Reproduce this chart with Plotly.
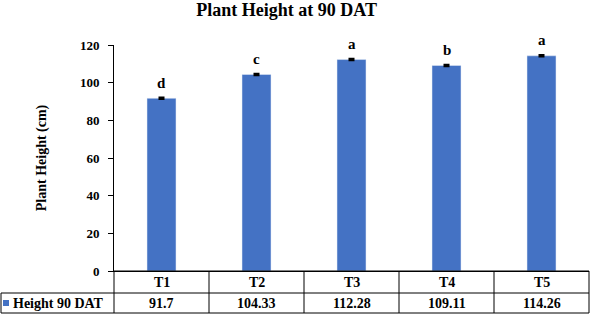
import plotly.graph_objects as go

categories = ["T1", "T2", "T3", "T4", "T5"]
heights = [91.7, 104.33, 112.28, 109.11, 114.26]
errors = [0.4, 0.4, 0.4, 0.4, 0.4]
letters = ["d", "c", "a", "b", "a"]
value_labels = ["91.7", "104.33", "112.28", "109.11", "114.26"]
series_name = "Height 90 DAT"
y_ticks = [0, 20, 40, 60, 80, 100, 120]

FONT = "Liberation Serif"
BLUE = "#4472C4"

W, H = 591, 323
ml, mr, mt, mb = 114, 2, 45, 52
pw = W - ml - mr
ph = H - mt - mb

fig = go.Figure()
fig.add_trace(go.Bar(
    x=categories, y=heights, marker_color=BLUE, width=0.305,
    error_y=dict(type="data", array=errors, color="black", thickness=2, width=3),
    showlegend=False,
))

fig.update_layout(
    width=W, height=H,
    margin=dict(l=ml, r=mr, t=mt, b=mb),
    plot_bgcolor="white", paper_bgcolor="white",
    title=dict(text="<b>Plant Height at 90 DAT</b>", x=0.485, xanchor="center",
               y=1 - 3 / H, yanchor="top", pad=dict(t=0),
               font=dict(family=FONT, size=18, color="black")),
    font=dict(family=FONT, color="black"),
)
fig.update_xaxes(showticklabels=False, ticks="", showline=True, linecolor="black",
                 linewidth=1, range=[-0.5, 4.5], showgrid=False, zeroline=False)
fig.update_yaxes(range=[0, 120], tickvals=y_ticks,
                 ticktext=[f"<b>{t}</b>" for t in y_ticks],
                 ticks="outside", ticklen=5, ticklabelstandoff=6,
                 tickcolor="black", showline=True, linecolor="black", linewidth=1,
                 showgrid=False, zeroline=False,
                 tickfont=dict(family=FONT, size=13, color="black"),
                 title=dict(text="<b>Plant Height (cm)</b>", standoff=30,
                            font=dict(family=FONT, size=14, color="black")))

def py(px_from_top):
    return 1 - (px_from_top - mt) / ph

def px(x_px):
    return (x_px - ml) / pw

row1_top = py(271)
row_mid = py(293)
row_bot = py(313)
left = px(1)
line = dict(color="black", width=1)

shapes = []
shapes.append(dict(type="line", xref="paper", yref="paper", x0=0, x1=1, y0=row1_top, y1=row1_top, line=line))
shapes.append(dict(type="line", xref="paper", yref="paper", x0=left, x1=1, y0=row_mid, y1=row_mid, line=line))
shapes.append(dict(type="line", xref="paper", yref="paper", x0=left, x1=1, y0=row_bot, y1=row_bot, line=line))
n = len(categories)
for i in range(n + 1):
    shapes.append(dict(type="line", xref="paper", yref="paper", x0=i / n, x1=i / n,
                       y0=row1_top, y1=row_bot, line=line))
shapes.append(dict(type="line", xref="paper", yref="paper", x0=left, x1=left,
                   y0=row_mid, y1=row_bot, line=line))
shapes.append(dict(type="rect", xref="paper", yref="paper", x0=px(3), x1=px(9),
                   y0=py(306), y1=py(300), fillcolor=BLUE, line=dict(width=0)))
fig.update_layout(shapes=shapes)

ann = []
for c, h, e, l in zip(categories, heights, errors, letters):
    ann.append(dict(x=c, y=h + e, xref="x", yref="y", text=f"<b>{l}</b>", showarrow=False,
                    yanchor="middle", yshift=15,
                    font=dict(family=FONT, size=15, color="black")))
for i, (c, v) in enumerate(zip(categories, value_labels)):
    xc = (i + 0.5) / n
    ann.append(dict(xref="paper", yref="paper", x=xc, y=(row1_top + row_mid) / 2,
                    text=f"<b>{c}</b>", showarrow=False, xanchor="center", yanchor="middle",
                    font=dict(family=FONT, size=14, color="black")))
    ann.append(dict(xref="paper", yref="paper", x=xc, y=(row_mid + row_bot) / 2,
                    text=f"<b>{v}</b>", showarrow=False, xanchor="center", yanchor="middle",
                    font=dict(family=FONT, size=14, color="black")))
ann.append(dict(xref="paper", yref="paper", x=px(11), y=(row_mid + row_bot) / 2,
                text=f"<b>{series_name}</b>", showarrow=False, xanchor="left", yanchor="middle",
                font=dict(family=FONT, size=14, color="black")))
fig.update_layout(annotations=ann)

fig.write_html("out.html")
